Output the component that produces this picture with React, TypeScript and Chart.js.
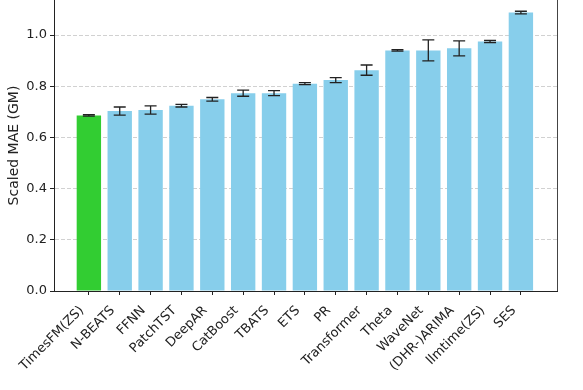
import React, { useEffect, useRef } from "react";
import { Chart, registerables } from "chart.js";

Chart.register(...registerables);

const categories = [
  "TimesFM(ZS)", "N-BEATS", "FFNN", "PatchTST", "DeepAR", "CatBoost", "TBATS", "ETS",
  "PR", "Transformer", "Theta", "WaveNet", "(DHR-)ARIMA", "llmtime(ZS)", "SES",
];
const values = [0.686, 0.703, 0.707, 0.724, 0.749, 0.773, 0.773, 0.810, 0.824, 0.863, 0.940, 0.940, 0.948, 0.975, 1.088];
const errors = [0.003, 0.016, 0.016, 0.005, 0.007, 0.012, 0.010, 0.004, 0.010, 0.020, 0.003, 0.041, 0.029, 0.004, 0.005];
const yTicks = [0, 0.2, 0.4, 0.6, 0.8, 1.0];
const yMin = 0;
const yMax = 1.137;
const xMin = -1.13;
const xMax = 15.17;

const FONT = "'DejaVu Sans', sans-serif";
const TEXT = "#222";

const errorBarPlugin = {
  id: "errorBars",
  afterDatasetsDraw(chart: any) {
    const meta = chart.getDatasetMeta(0);
    const ys = chart.scales.y;
    const ctx = chart.ctx;
    ctx.save();
    ctx.strokeStyle = "#222";
    ctx.lineWidth = 1.3;
    meta.data.forEach((bar: any, i: number) => {
      const x = bar.x;
      const top = ys.getPixelForValue(values[i] + errors[i]);
      const bot = ys.getPixelForValue(values[i] - errors[i]);
      const cap = 6;
      ctx.beginPath();
      ctx.moveTo(x, top);
      ctx.lineTo(x, bot);
      ctx.moveTo(x - cap, top);
      ctx.lineTo(x + cap, top);
      ctx.moveTo(x - cap, bot);
      ctx.lineTo(x + cap, bot);
      ctx.stroke();
    });
    ctx.restore();
  },
};

const rightSpinePlugin = {
  id: "rightSpine",
  afterDraw(chart: any) {
    const { ctx, chartArea } = chart;
    ctx.save();
    ctx.strokeStyle = "#444";
    ctx.lineWidth = 1;
    ctx.beginPath();
    ctx.moveTo(chartArea.right + 0.5, chartArea.top);
    ctx.lineTo(chartArea.right + 0.5, chartArea.bottom);
    ctx.stroke();
    ctx.restore();
  },
};

export default function App() {
  const ref = useRef<HTMLCanvasElement | null>(null);
  useEffect(() => {
    if (!ref.current) return;
    const chart = new Chart(ref.current, {
      type: "bar",
      data: {
        datasets: [
          {
            data: values.map((v, i) => ({ x: i, y: v })),
            backgroundColor: categories.map((_, i) => (i === 0 ? "#32CD32" : "#87CEEB")),
            barPercentage: 0.79,
            categoryPercentage: 1,
          },
        ],
      },
      options: {
        animation: false,
        responsive: true,
        maintainAspectRatio: false,
        layout: { padding: { left: 0, right: 26, top: 0, bottom: 0 } },
        plugins: { legend: { display: false }, tooltip: { enabled: false } },
        scales: {
          x: {
            type: "linear",
            offset: false,
            min: xMin,
            max: xMax,
            afterBuildTicks: (scale: any) => {
              scale.ticks = categories.map((_, i) => ({ value: i }));
            },
            afterFit: (scale: any) => {
              scale.height = 99;
              scale.paddingLeft = 0;
              scale.paddingRight = 0;
            },
            ticks: {
              autoSkip: false,
              maxRotation: 45,
              minRotation: 45,
              padding: 8,
              labelOffset: -7,
              color: TEXT,
              font: { family: FONT, size: 13 },
              callback: (v: any) => categories[Math.round(v)] ?? "",
            },
            grid: { offset: false, drawOnChartArea: false, tickLength: 4, tickColor: TEXT },
            border: { color: TEXT, width: 1 },
          },
          y: {
            min: yMin,
            max: yMax,
            afterBuildTicks: (scale: any) => {
              scale.ticks = yTicks.map((v) => ({ value: v }));
            },
            afterFit: (scale: any) => {
              scale.width = 54;
              scale.paddingTop = 0;
              scale.paddingBottom = 0;
            },
            ticks: {
              color: TEXT,
              padding: 3,
              font: { family: FONT, size: 13 },
              callback: (v: any) => Number(v).toFixed(1),
            },
            grid: {
              color: "rgba(190,190,190,0.7)",
              lineWidth: 1,
              tickLength: 4,
              tickColor: TEXT,
              tickBorderDash: [],
            },
            border: { color: TEXT, width: 1, dash: [4, 2] },
            title: {
              display: true,
              text: "Scaled MAE (GM)",
              color: TEXT,
              font: { family: FONT, size: 14 },
              padding: { top: 6, bottom: 0 },
            },
          },
        },
      },
      plugins: [errorBarPlugin, rightSpinePlugin],
    });
    return () => chart.destroy();
  }, []);
  return (
    <div style={{ position: "absolute", left: 0, top: 0, width: 583, height: 390, background: "#fff" }}>
      <canvas ref={ref} />
    </div>
  );
}
